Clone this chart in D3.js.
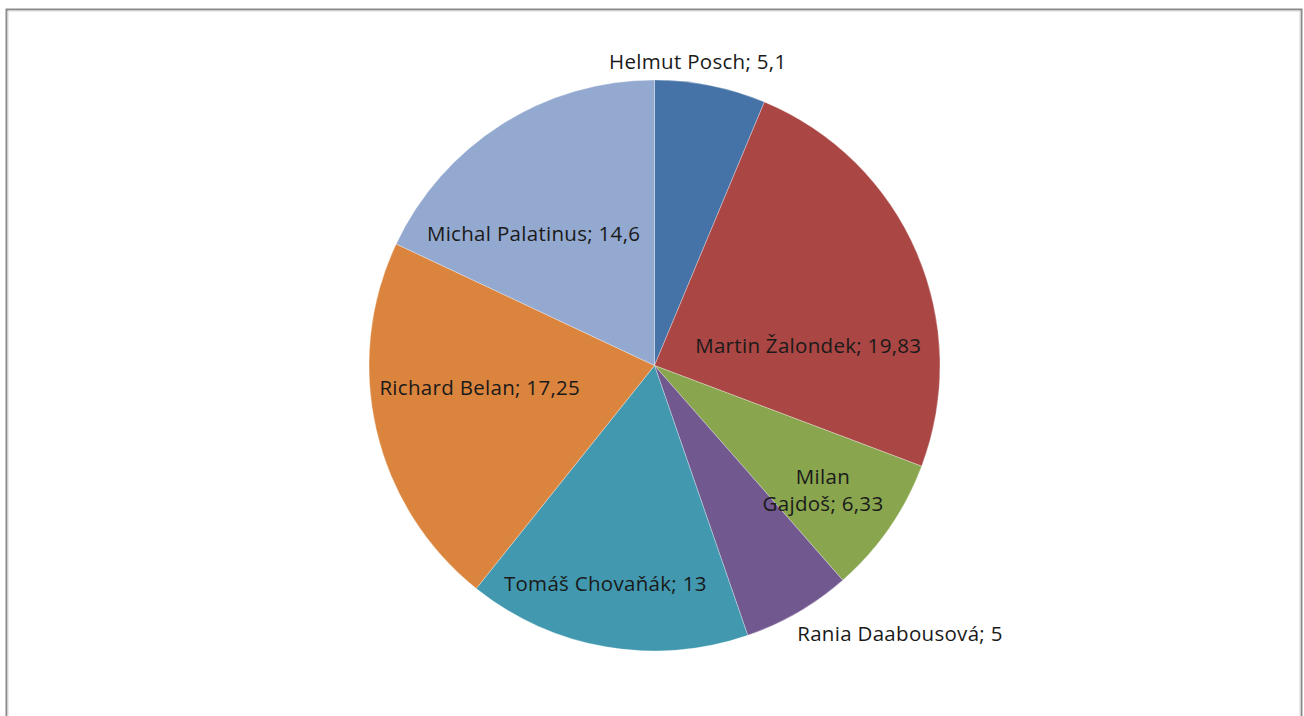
<!DOCTYPE html>
<html><head><meta charset="utf-8">
<script src="https://cdn.jsdelivr.net/npm/d3@7"></script>
<style>body{margin:0;background:#fff}svg{display:block}</style>
</head><body>
<svg id="c" width="1304" height="716"></svg>
<script>
const names = ["Helmut Posch","Martin Žalondek","Milan Gajdoš","Rania Daabousová","Tomáš Chovaňák","Richard Belan","Michal Palatinus"];
const values = [5.1,19.83,6.33,5,13,17.25,14.6];
const valueLabels = ["5,1","19,83","6,33","5","13","17,25","14,6"];
const colors = ["#4572A7","#AA4643","#89A54E","#71588F","#4198AF","#DB843D","#93A9CF"];
// label layout: radius factor, angle nudge (deg), anchor, line breaks
const labelR = [1.073,0.543,0.735,1.066,0.785,0.617,0.627];
const labelNudge = [-3.2,16,1.9,2.2,2.9,5.9,-10.1];
const labelAnchor = ["middle","middle","middle","start","middle","middle","middle"];
const labelLines = [[0],[0],[1],[0],[0],[0],[0]];

const svg = d3.select("#c");
// frame
svg.append("path").attr("d",`M6.5,716 V9.5 H1301.5 V716`).attr("fill","none").attr("stroke","#8a8a8a").attr("stroke-width",2);
svg.append("path").attr("d",`M8,716 V11 H1300 V716`).attr("fill","none").attr("stroke","#d8d8d8").attr("stroke-width",1);

const cx=654.5, cy=365.5, R=285.5;
const g = svg.append("g").attr("transform",`translate(${cx},${cy})`);
const pie = d3.pie().sort(null).value(d=>d);
const arcs = pie(values);
const arc = d3.arc().innerRadius(0).outerRadius(R);
g.selectAll("path.s").data(arcs).join("path").attr("class","s")
  .attr("d",arc).attr("fill",(d,i)=>colors[i]).attr("stroke","#ffffff").attr("stroke-width",0.6).attr("stroke-opacity",0.5);

arcs.forEach((d,i)=>{
  const a = (d.startAngle+d.endAngle)/2 + labelNudge[i]*Math.PI/180;
  const r = R*labelR[i];
  const x = r*Math.sin(a), y = -r*Math.cos(a);
  const txt = names[i]+"; "+valueLabels[i];
  const t = g.append("text").attr("x",x).attr("y",y)
    .attr("text-anchor",labelAnchor[i])
    .attr("font-family","'Open Sans', Lato, sans-serif").attr("font-size",20.5)
    .attr("letter-spacing",0.3).attr("fill","#1a1a1a");
  if(labelLines[i][0]===1){
    const sp = names[i].indexOf(" ");
    const parts = [names[i].slice(0,sp), names[i].slice(sp+1)+"; "+valueLabels[i]];
    t.append("tspan").attr("x",x).attr("dy","-0.32em").text(parts[0]);
    t.append("tspan").attr("x",x).attr("dy","1.3em").text(parts[1]);
  } else {
    t.attr("dy","0.35em").text(txt);
  }
});
</script>
</body></html>
